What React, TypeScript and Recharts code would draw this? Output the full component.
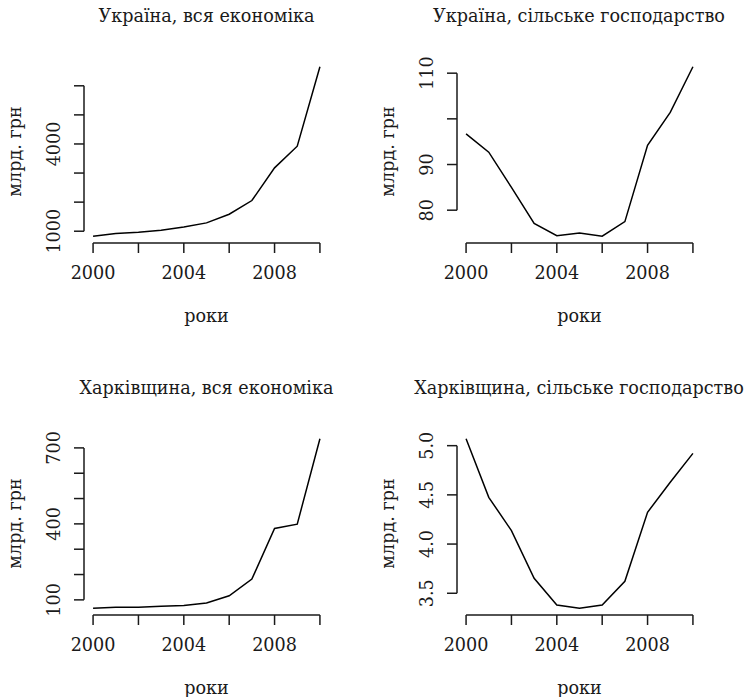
import { LineChart, Line, XAxis, YAxis, ReferenceLine } from "recharts";

const years = [2000, 2001, 2002, 2003, 2004, 2005, 2006, 2007, 2008, 2009, 2010];
const ukraineTotal = [828, 920, 966, 1034, 1149, 1287, 1585, 2055, 3179, 3924, 6654];
const ukraineAgri = [96.7, 92.7, 85.0, 77.1, 74.4, 75.0, 74.3, 77.5, 94.2, 101.4, 111.4];
const kharkivTotal = [67, 71, 71, 75, 78, 88, 116, 182, 382, 399, 736];
const kharkivAgri = [5.07, 4.475, 4.137, 3.652, 3.381, 3.348, 3.381, 3.622, 4.323, 4.628, 4.922];

const xTicks = [2000, 2002, 2004, 2006, 2008, 2010];
const xLabeled = [2000, 2004, 2008];

const FONT = "'DejaVu Serif', serif";
const SIZE = 17.6;
const INK = "#1a1a1a";

interface PanelProps {
  title: string;
  values: number[];
  yTicks: number[];
  yLabeled: number[];
  decimals?: number;
  left: number;
  top: number;
}

function Panel({ title, values, yTicks, yLabeled, decimals = 0, left, top }: PanelProps) {
  const data = years.map((year, i) => ({ year, value: values[i] }));
  // R-style 4% padding around the data range
  const lo = Math.min(...values);
  const hi = Math.max(...values);
  const pad = (hi - lo) * 0.04;
  const yDomain = [lo - pad, hi + pad];
  const xDomain = [2000 - 0.4, 2010 + 0.4];

  const renderXTick = (props: any) => {
    const { x, y, payload } = props;
    if (!xLabeled.includes(payload.value)) return <g />;
    return (
      <text x={x} y={y} textAnchor="middle" dominantBaseline="central" fontFamily={FONT} fontSize={SIZE} fill={INK}>
        {payload.value}
      </text>
    );
  };

  const renderYTick = (props: any) => {
    const { x, y, payload } = props;
    if (!yLabeled.includes(payload.value)) return <g />;
    return (
      <text
        x={x}
        y={y}
        transform={`rotate(-90 ${x} ${y})`}
        textAnchor="middle"
        dominantBaseline="central"
        fontFamily={FONT}
        fontSize={SIZE}
        fill={INK}
      >
        {payload.value.toFixed(decimals)}
      </text>
    );
  };

  return (
    <div style={{ position: "absolute", left, top, width: 373, height: 328 }}>
      <div
        style={{
          position: "absolute",
          left: 84 + 122.5,
          top: 6,
          transform: "translateX(-50%)",
          whiteSpace: "nowrap",
          fontFamily: FONT,
          fontSize: SIZE,
          color: INK,
        }}
      >
        {title}
      </div>
      <LineChart width={373} height={328} data={data} margin={{ top: 60, right: 44, bottom: 0, left: 0 }}>
        <XAxis
          dataKey="year"
          type="number"
          domain={xDomain}
          ticks={xTicks}
          interval={0}
          axisLine={false}
          tickSize={10}
          tickMargin={20}
          tickLine={{ stroke: INK, strokeWidth: 1.5 }}
          tick={renderXTick}
          height={85}
          label={{
            content: (p: any) => (
              <text
                x={p.viewBox.x + p.viewBox.width / 2}
                y={p.viewBox.y + 73}
                textAnchor="middle"
                dominantBaseline="central"
                fontFamily={FONT}
                fontSize={SIZE}
                fill={INK}
              >
                роки
              </text>
            ),
          }}
        />
        <YAxis
          type="number"
          domain={yDomain}
          ticks={yTicks}
          interval={0}
          allowDataOverflow
          axisLine={false}
          tickSize={10}
          tickMargin={20}
          tickLine={{ stroke: INK, strokeWidth: 1.5 }}
          tick={renderYTick}
          width={84}
          label={{
            content: (p: any) => {
              const cx = 15;
              const cy = p.viewBox.y + p.viewBox.height / 2;
              return (
                <text
                  x={cx}
                  y={cy}
                  transform={`rotate(-90 ${cx} ${cy})`}
                  textAnchor="middle"
                  dominantBaseline="central"
                  fontFamily={FONT}
                  fontSize={SIZE}
                  fill={INK}
                >
                  млрд. грн
                </text>
              );
            },
          }}
        />
        <ReferenceLine
          segment={[
            { x: 2000, y: yDomain[0] },
            { x: 2010, y: yDomain[0] },
          ]}
          stroke={INK}
          strokeWidth={1.5}
          ifOverflow="visible"
        />
        <ReferenceLine
          segment={[
            { x: xDomain[0], y: yTicks[0] },
            { x: xDomain[0], y: yTicks[yTicks.length - 1] },
          ]}
          stroke={INK}
          strokeWidth={1.5}
          ifOverflow="visible"
        />
        <Line type="linear" dataKey="value" stroke="#000" strokeWidth={1.5} dot={false} isAnimationActive={false} />
      </LineChart>
    </div>
  );
}

export default function App() {
  return (
    <div style={{ position: "absolute", left: 0, top: 0, width: 746, height: 697, overflow: "hidden", background: "#fff" }}>
      <Panel
        title="Україна, вся економіка"
        values={ukraineTotal}
        yTicks={[1000, 2000, 3000, 4000, 5000, 6000]}
        yLabeled={[1000, 4000]}
        left={0}
        top={0}
      />
      <Panel
        title="Україна, сільське господарство"
        values={ukraineAgri}
        yTicks={[80, 90, 100, 110]}
        yLabeled={[80, 90, 110]}
        left={372.5}
        top={0}
      />
      <Panel
        title="Харківщина, вся економіка"
        values={kharkivTotal}
        yTicks={[100, 200, 300, 400, 500, 600, 700]}
        yLabeled={[100, 400, 700]}
        left={0}
        top={372.2}
      />
      <Panel
        title="Харківщина, сільське господарство"
        values={kharkivAgri}
        yTicks={[3.5, 4.0, 4.5, 5.0]}
        yLabeled={[3.5, 4.0, 4.5, 5.0]}
        decimals={1}
        left={372.5}
        top={372.2}
      />
    </div>
  );
}
